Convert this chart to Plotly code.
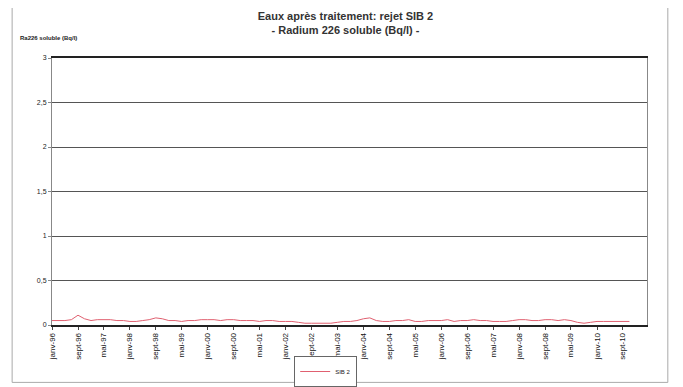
import pandas as pd
import plotly.graph_objects as go

# bimonthly readings, SIB 2 outlet (Bq/l)
dates = pd.date_range('1996-01-01', '2010-11-01', freq='2MS')
ra226 = [
    0.05, 0.05, 0.05, 0.06, 0.11, 0.07,
    0.05, 0.06, 0.06, 0.06, 0.05, 0.05,
    0.04, 0.04, 0.05, 0.06, 0.08, 0.07,
    0.05, 0.05, 0.04, 0.05, 0.05, 0.06,
    0.06, 0.06, 0.05, 0.06, 0.06, 0.05,
    0.05, 0.05, 0.04, 0.05, 0.05, 0.04,
    0.04, 0.04, 0.03, 0.02, 0.02, 0.02,
    0.02, 0.02, 0.03, 0.04, 0.04, 0.05,
    0.07, 0.08, 0.05, 0.04, 0.04, 0.05,
    0.05, 0.06, 0.04, 0.04, 0.05, 0.05,
    0.05, 0.06, 0.04, 0.05, 0.05, 0.06,
    0.05, 0.05, 0.04, 0.04, 0.04, 0.05,
    0.06, 0.06, 0.05, 0.05, 0.06, 0.06,
    0.05, 0.06, 0.05, 0.03, 0.02, 0.03,
    0.04, 0.04, 0.04, 0.04, 0.04, 0.04,
]

tick_dates = pd.date_range('1996-01-01', '2010-09-01', freq='8MS')
tick_labels = ['janv-96', 'sept-96', 'mai-97', 'janv-98', 'sept-98', 'mai-99',
               'janv-00', 'sept-00', 'mai-01', 'janv-02', 'sept-02', 'mai-03',
               'janv-04', 'sept-04', 'mai-05', 'janv-06', 'sept-06', 'mai-07',
               'janv-08', 'sept-08', 'mai-09', 'janv-10', 'sept-10']

y_ticks = [0, 0.5, 1, 1.5, 2, 2.5, 3]
y_labels = ['0', '0,5', '1', '1,5', '2', '2,5', '3']

fig = go.Figure()
fig.add_trace(go.Scatter(x=dates, y=ra226, name='SIB 2', mode='lines',
                         line=dict(color='#e06070', width=1)))

# page body adds 8px, so the figure is a bit smaller than the window
fig.update_layout(
    width=675, height=379,
    margin=dict(l=44, r=36, t=50, b=62),
    paper_bgcolor='white', plot_bgcolor='white',
    font=dict(family='Liberation Sans, Arial, sans-serif', size=8, color='#222'),
    title=dict(text='<b>Eaux après traitement: rejet SIB 2<br>- Radium 226 soluble (Bq/l) -</b>',
               x=0.5, xanchor='center', y=0.968, yanchor='top',
               font=dict(size=11, color='#333')),
    showlegend=True,
    legend=dict(orientation='h', x=0.46, xanchor='center', yref='container', y=0.0, yanchor='bottom',
                bordercolor='#666', borderwidth=1, font=dict(size=6),
                itemwidth=30, tracegroupgap=0),
    xaxis=dict(range=['1996-01-01', '2011-04-15'], tickvals=tick_dates, ticktext=tick_labels,
               tickangle=-90, tickfont=dict(size=8, color='#111'), showgrid=False,
               showline=True, linecolor='#222', linewidth=1.5, mirror=True, automargin=False,
               ticks='outside', ticklen=3, tickcolor='#444'),
    yaxis=dict(range=[0, 3], tickvals=y_ticks, ticktext=y_labels, automargin=False,
               tickfont=dict(size=7), showgrid=True, gridcolor='#555', gridwidth=1,
               showline=True, linecolor='#888', zeroline=False, mirror=True,
               ticks='outside', ticklen=3, tickcolor='#888'),
)

fig.add_annotation(text='<b>Ra226 soluble (Bq/l)</b>', xref='paper', yref='paper',
                   x=-0.057, y=1.075, xanchor='left', yanchor='middle',
                   showarrow=False, font=dict(size=6, color='#222'))

# outer chart frame
fig.add_shape(type='rect', xref='paper', yref='paper', x0=-0.067, x1=1.035, y0=-0.215, y1=1.2,
              line=dict(color='#aaa', width=1), layer='below')

fig.write_html('out.html')
